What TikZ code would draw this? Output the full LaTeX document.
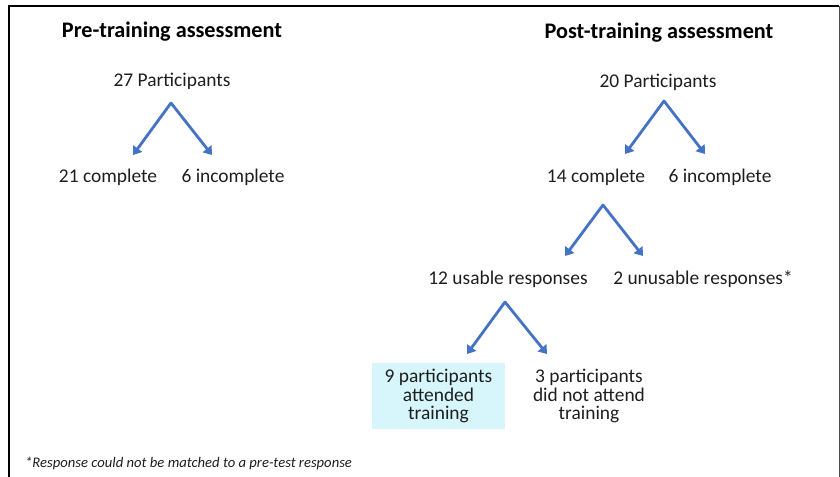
\documentclass[tikz,border=0pt]{standalone}
\usepackage{fontspec}
\setmainfont{Carlito}
\usetikzlibrary{arrows.meta}
\definecolor{arrblue}{HTML}{4472C4}
\definecolor{boxcyan}{HTML}{D6F6FB}
\definecolor{txt}{HTML}{1E1E1E}
\begin{document}
\begin{tikzpicture}[x=1bp,y=-1bp,
  lbl/.style={font=\fontsize{19.5}{18.5}\selectfont, text=txt, inner sep=0pt, anchor=center, align=center},
  ttl/.style={font=\fontsize{22.3}{24}\selectfont\bfseries, text=black, inner sep=0pt, anchor=center},
  arr/.style={draw=arrblue, line width=2.8bp, line cap=round, -{Triangle[length=8bp,width=11bp]}},
  note/.style={font=\fontsize{14.7}{16}\selectfont\itshape, text=txt, inner sep=0pt, anchor=west}]
\useasboundingbox (0,0) rectangle (840,477);
\draw[line width=1.6bp] (9,477) -- (9,6) -- (839,6);
\draw[line width=1bp, black!70] (839,6) -- (839,477);

% Pre-training
\node[ttl] (pretitle) at (172,32) {Pre-training assessment};
\node[lbl] (pre) at (172,81) {27 Participants};
\node[lbl] (prec) at (108,177) {21 complete};
\node[lbl] (prei) at (233,177) {6 incomplete};
\coordinate (preA) at (171,103);
\coordinate (preL) at (133,155);
\coordinate (preR) at (212,155);
\draw[arr] (preA) -- (preL);
\draw[arr] (preA) -- (preR);

% Post-training
\node[ttl] (posttitle) at (659,33) {Post-training assessment};
\node[lbl] (post) at (658,82) {20 Participants};
\node[lbl] (postc) at (596,177) {14 complete};
\node[lbl] (posti) at (720,177) {6 incomplete};
\coordinate (postA) at (664,101);
\coordinate (postL) at (625,154);
\coordinate (postR) at (705,154);
\draw[arr] (postA) -- (postL);
\draw[arr] (postA) -- (postR);

\node[lbl] (usable) at (508,279) {12 usable responses};
\node[lbl] (unusable) at (703,279) {2 unusable responses*};
\coordinate (cA) at (603,205);
\coordinate (cL) at (565,256);
\coordinate (cR) at (643,256);
\draw[arr] (cA) -- (cL);
\draw[arr] (cA) -- (cR);

\node[lbl, fill=boxcyan, minimum width=133bp, minimum height=66bp] (att) at (438.5,396) {9 participants\\attended\\training};
\node[lbl] (notatt) at (589,396) {3 participants\\did not attend\\training};
\coordinate (uA) at (505,302);
\coordinate (uL) at (467,354);
\coordinate (uR) at (547,354);
\draw[arr] (uA) -- (uL);
\draw[arr] (uA) -- (uR);

\node[note] (foot) at (25,463) {*Response could not be matched to a pre-test response};
\end{tikzpicture}
\end{document}
